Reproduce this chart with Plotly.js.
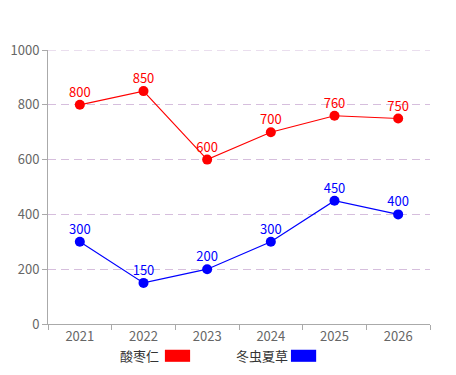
<!DOCTYPE html>
<html><head><meta charset="utf-8">
<script src="https://cdn.plot.ly/plotly-3.0.1.min.js"></script>
<style>html,body{margin:0;padding:0;background:#fff}#c{width:456px;height:375px}</style>
</head><body><div id="c"></div>
<script>
const years = ['2021','2022','2023','2024','2025','2026'];
const seriesNames = ['酸枣仁','冬虫夏草'];
const suanzaoren = [800, 850, 600, 700, 760, 750];
const dongchong = [300, 150, 200, 300, 450, 400];
const yTicks = [0, 200, 400, 600, 800, 1000];

const font = '"Noto Sans CJK SC", "Noto Sans", sans-serif';
function traces(name, y, color) {
  return [{
    type: 'scatter', mode: 'lines+markers', name: name,
    x: years, y: y,
    line: {color: color, width: 1.2},
    marker: {color: color, size: 10},
    cliponaxis: false, showlegend: false
  }, {
    type: 'scatter', mode: 'markers+text', name: name,
    x: years, y: y, text: y.map(String), textposition: 'top center',
    textfont: {color: color, size: 13, family: font},
    marker: {size: 6, color: 'rgba(0,0,0,0)'},
    cliponaxis: false, showlegend: false
  }];
}
const data = [...traces(seriesNames[0], suanzaoren, '#ff0000'), ...traces(seriesNames[1], dongchong, '#0000ff')];
const gridColor = '#d6bedd';
const yMax = yTicks[yTicks.length - 1];
const layout = {
  width: 456, height: 375,
  margin: {l: 48, r: 26, t: 50, b: 51},
  paper_bgcolor: '#fff', plot_bgcolor: '#fff',
  font: {family: font, size: 13, color: '#666'},
  xaxis: {
    type: 'category', range: [-0.5, 5.5], showgrid: false,
    showline: true, linecolor: '#aaa', linewidth: 1,
    ticks: 'outside', tickson: 'boundaries', ticklen: 5, tickcolor: '#aaa',
    tickfont: {color: '#666', size: 13}, fixedrange: true
  },
  yaxis: {
    range: [0, yMax], tickvals: yTicks, showgrid: true,
    gridcolor: gridColor, griddash: '8px,5px', gridwidth: 1,
    zeroline: false, showline: true, linecolor: '#aaa', linewidth: 1,
    ticks: 'outside', ticklen: 5, tickcolor: '#aaa',
    tickfont: {color: '#666', size: 13}
  },
  annotations: [
    {xref: 'paper', yref: 'paper', x: 0.295, y: -0.115, xanchor: 'right', yanchor: 'middle',
     text: seriesNames[0], showarrow: false, font: {size: 13, color: '#333'}},
    {xref: 'paper', yref: 'paper', x: 0.633, y: -0.115, xanchor: 'right', yanchor: 'middle',
     text: seriesNames[1], showarrow: false, font: {size: 13, color: '#333'}}
  ],
  shapes: [
    {type: 'line', xref: 'paper', yref: 'y', x0: 0, x1: 1, y0: yMax, y1: yMax,
     line: {color: gridColor, width: 1, dash: '8px,5px'}, layer: 'below'},
    {type: 'rect', xref: 'paper', yref: 'paper', x0: 0.306, x1: 0.372, y0: -0.138, y1: -0.094,
     fillcolor: '#ff0000', line: {width: 0}},
    {type: 'rect', xref: 'paper', yref: 'paper', x0: 0.636, x1: 0.702, y0: -0.138, y1: -0.094,
     fillcolor: '#0000ff', line: {width: 0}}
  ]
};
Plotly.newPlot('c', data, layout, {displayModeBar: false, staticPlot: true});
</script></body></html>
